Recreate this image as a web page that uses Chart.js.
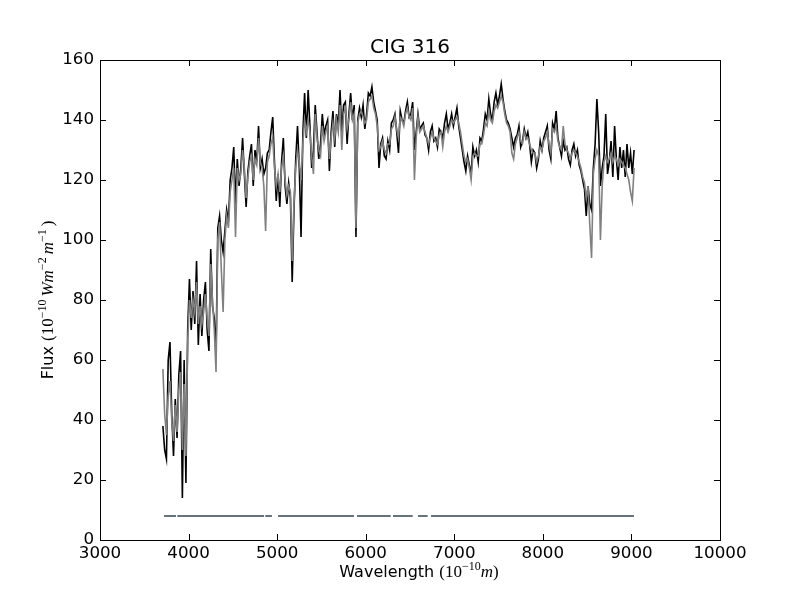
<!DOCTYPE html>
<html>
<head>
<meta charset="utf-8">
<script src="https://cdn.jsdelivr.net/npm/chart.js@4"></script>
<style>
  html, body { margin: 0; padding: 0; background: #fff; }
  #wrap { width: 800px; height: 600px; }
</style>
</head>
<body>
<div id="wrap"><canvas id="spectrum"></canvas></div>
<script>
// wavelength grid (Angstrom) shared by both spectra
const wavelength = [
  3710, 3730, 3750, 3770, 3790, 3810, 3830, 3850, 3870, 3890,
  3910, 3930, 3950, 3970, 3990, 4010, 4030, 4050, 4070, 4090,
  4110, 4130, 4150, 4170, 4190, 4210, 4230, 4250, 4270, 4290,
  4310, 4330, 4350, 4370, 4390, 4410, 4430, 4450, 4470, 4490,
  4510, 4530, 4550, 4570, 4590, 4610, 4630, 4650, 4670, 4690,
  4710, 4730, 4750, 4770, 4790, 4810, 4830, 4850, 4870, 4890,
  4910, 4930, 4950, 4970, 4990, 5010, 5030, 5050, 5070, 5090,
  5110, 5130, 5150, 5170, 5190, 5210, 5230, 5250, 5270, 5290,
  5310, 5330, 5350, 5370, 5390, 5410, 5430, 5450, 5470, 5490,
  5510, 5530, 5550, 5570, 5590, 5610, 5630, 5650, 5670, 5690,
  5710, 5730, 5750, 5770, 5790, 5810, 5830, 5850, 5870, 5890,
  5910, 5930, 5950, 5970, 5990, 6010, 6030, 6050, 6070, 6090,
  6110, 6130, 6150, 6170, 6190, 6210, 6230, 6250, 6270, 6290,
  6310, 6330, 6350, 6370, 6390, 6410, 6430, 6450, 6470, 6490,
  6510, 6530, 6550, 6570, 6590, 6610, 6630, 6650, 6670, 6690,
  6710, 6730, 6750, 6770, 6790, 6810, 6830, 6850, 6870, 6890,
  6910, 6930, 6950, 6970, 6990, 7010, 7030, 7050, 7070, 7090,
  7110, 7130, 7150, 7170, 7190, 7210, 7230, 7250, 7270, 7290,
  7310, 7330, 7350, 7370, 7390, 7410, 7430, 7450, 7470, 7490,
  7510, 7530, 7550, 7570, 7590, 7610, 7630, 7650, 7670, 7690,
  7710, 7730, 7750, 7770, 7790, 7810, 7830, 7850, 7870, 7890,
  7910, 7930, 7950, 7970, 7990, 8010, 8030, 8050, 8070, 8090,
  8110, 8130, 8150, 8170, 8190, 8210, 8230, 8250, 8270, 8290,
  8310, 8330, 8350, 8370, 8390, 8410, 8430, 8450, 8470, 8490,
  8510, 8530, 8550, 8570, 8590, 8610, 8630, 8650, 8670, 8690,
  8710, 8730, 8750, 8770, 8790, 8810, 8830, 8850, 8870, 8890,
  8910, 8930, 8950, 8970, 8990, 9010, 9030
];

// observed spectrum (black)
const fluxBlack = [
  38, 30, 27, 60, 66, 42, 28, 47, 34, 55,
  63, 14, 60, 19, 70, 87, 70, 83, 72, 93,
  65, 82, 68, 80, 86, 70, 63, 97, 78, 74,
  62, 104, 108, 100, 96, 103, 110, 106, 120, 124,
  131, 112, 127, 118, 124, 134, 122, 111, 123, 128,
  132, 118, 130, 126, 138, 124, 127, 122, 124, 129,
  130, 136, 141, 126, 113, 122, 111, 126, 134, 118,
  112, 119, 114, 86, 110, 127, 138, 124, 101, 135,
  149, 134, 150, 138, 124, 130, 145, 136, 127, 132,
  142, 135, 138, 140, 123, 136, 143, 131, 142, 138,
  150, 136, 145, 146, 132, 142, 149, 140, 145, 101,
  140, 144, 141, 145, 137, 142, 149, 148, 151, 146,
  143, 140, 124, 132, 134, 128, 127, 133, 130, 139,
  140, 142, 136, 129, 143, 140, 139, 143, 146, 141,
  142, 146, 130, 136, 142, 137, 138, 139, 135, 134,
  130, 136, 138, 133, 134, 131, 137, 136, 134, 139,
  142, 137, 139, 142, 138, 141, 144, 138, 134, 130,
  126, 123, 128, 125, 122, 131, 128, 130, 126, 134,
  133, 137, 142, 140, 147, 142, 140, 146, 149, 145,
  148, 152, 147, 143, 140, 139, 137, 134, 131, 134,
  135, 138, 131, 133, 137, 134, 136, 132, 126, 130,
  129, 124, 127, 133, 130, 134, 136, 138, 130, 127,
  139, 137, 143, 134, 131, 128, 133, 130, 131, 127,
  125, 130, 132, 128, 130, 125, 123, 120, 117, 108,
  118, 112, 110, 124, 132, 147, 136, 118, 124, 128,
  142, 122, 126, 133, 121, 138, 127, 120, 131, 124,
  130, 121, 132, 124, 129, 122, 130
];

// fitted spectrum (grey)
const fluxGray = [
  57, 42, 35, 48, 53, 40, 33, 45, 36, 50,
  56, 30, 52, 28, 66, 80, 74, 80, 76, 86,
  72, 78, 72, 76, 82, 74, 68, 92, 80, 70,
  56, 100, 106, 90, 76, 100, 108, 104, 116, 120,
  124, 101, 124, 120, 122, 130, 124, 114, 121, 126,
  128, 120, 127, 125, 134, 126, 124, 118, 103, 126,
  128, 132, 134, 124, 118, 122, 116, 124, 128, 120,
  115, 118, 116, 93, 112, 124, 130, 126, 120, 132,
  140, 136, 140, 136, 128, 122, 142, 134, 130, 128,
  138, 133, 136, 138, 127, 134, 139, 134, 140, 136,
  145, 130, 142, 144, 137, 140, 146, 140, 142, 104,
  139, 142, 143, 141, 139, 140, 146, 147, 148, 144,
  142, 138, 130, 131, 133, 130, 129, 132, 132, 137,
  138, 141, 137, 134, 141, 140, 138, 142, 144, 141,
  140, 144, 120, 134, 141, 136, 137, 138, 136, 134,
  132, 134, 136, 134, 133, 132, 135, 136, 131, 136,
  138, 136, 138, 140, 139, 140, 141, 139, 136, 132,
  128, 126, 127, 124, 120, 128, 129, 128, 128, 132,
  132, 135, 139, 138, 143, 140, 139, 143, 145, 144,
  146, 148, 146, 142, 139, 138, 136, 129, 127, 132,
  134, 136, 133, 132, 136, 134, 134, 132, 130, 129,
  129, 126, 128, 131, 130, 133, 134, 136, 132, 129,
  137, 136, 138, 133, 131, 130, 138, 132, 130, 129,
  127, 129, 130, 129, 128, 126, 124, 121, 119, 114,
  118, 105, 94, 122, 127, 130, 128, 100, 118, 126,
  128, 126, 127, 129, 126, 128, 127, 125, 127, 126,
  125, 124, 122, 120, 116, 113, 124
];

// masked-region bar at the bottom: segment starts / ends
const maskStart = [3723, 3873, 4866, 5010, 5902, 6308, 6590, 6737];
const maskEnd = [3858, 4852, 4941, 5868, 6282, 6530, 6699, 9029];
const maskLevel = 8;

const xMin = 3000, xMax = 10000, xStep = 1000;
const yMin = 0, yMax = 160, yStep = 20;

const toPoints = (ys) => wavelength.map((w, i) => ({x: w, y: ys[i]}));

const maskPoints = [];
maskStart.forEach((s, i) => {
  maskPoints.push({x: s, y: maskLevel});
  maskPoints.push({x: maskEnd[i], y: maskLevel});
  maskPoints.push({x: maskEnd[i], y: null});
});

const FONT = 'DejaVu Sans';
const SANS = '16px "DejaVu Sans"';
const SERIF = '17px "Liberation Serif"';
const SERIF_IT = 'italic 17px "Liberation Serif"';
const SUP = '12px "Liberation Serif"';

// axis labels with math-style parts, like matplotlib mathtext
const xLabelRuns = [
  {t: 'Wavelength ', f: SANS}, {t: '(10', f: SERIF}, {t: '\u221210', f: SUP, up: 7},
  {t: 'm', f: SERIF_IT}, {t: ')', f: SERIF}
];
const yLabelRuns = [
  {t: 'Flux ', f: SANS}, {t: '(10', f: SERIF}, {t: '\u221210', f: SUP, up: 7, gap: 3},
  {t: 'Wm', f: SERIF_IT}, {t: '\u22122', f: SUP, up: 7, gap: 3},
  {t: 'm', f: SERIF_IT}, {t: '\u22121', f: SUP, up: 7, gap: 3}, {t: ')', f: SERIF}
];

function drawRuns(ctx, runs, cx, baseline) {
  let total = 0;
  runs.forEach(r => { ctx.font = r.f; total += ctx.measureText(r.t).width + (r.gap || 0); });
  let x = cx - total / 2;
  ctx.textAlign = 'left';
  ctx.textBaseline = 'alphabetic';
  runs.forEach(r => {
    ctx.font = r.f;
    ctx.fillText(r.t, x, baseline - (r.up || 0));
    x += ctx.measureText(r.t).width + (r.gap || 0);
  });
}

// matplotlib-like frame with inward ticks on all four sides, title and axis labels
const frameTicks = {
  id: 'frameTicks',
  afterDatasetsDraw(chart) {
    const {ctx, chartArea: a, scales: {x, y}} = chart;
    const len = 6;
    ctx.save();
    ctx.strokeStyle = '#000';
    ctx.lineWidth = 1;
    ctx.beginPath();
    x.ticks.forEach(t => {
      const px = Math.round(x.getPixelForValue(t.value)) + 0.5;
      ctx.moveTo(px, a.bottom); ctx.lineTo(px, a.bottom - len);
      ctx.moveTo(px, a.top); ctx.lineTo(px, a.top + len);
    });
    y.ticks.forEach(t => {
      const py = Math.round(y.getPixelForValue(t.value)) + 0.5;
      ctx.moveTo(a.left, py); ctx.lineTo(a.left + len, py);
      ctx.moveTo(a.right, py); ctx.lineTo(a.right - len, py);
    });
    ctx.stroke();
    ctx.strokeRect(Math.round(a.left) + 0.5, Math.round(a.top) + 0.5,
                   Math.round(a.right - a.left), Math.round(a.bottom - a.top));

    ctx.fillStyle = '#000';
    ctx.font = '20px "' + FONT + '"';
    ctx.textAlign = 'center';
    ctx.textBaseline = 'alphabetic';
    ctx.fillText('CIG 316', (a.left + a.right) / 2, a.top - 7);

    drawRuns(ctx, xLabelRuns, (a.left + a.right) / 2 + 9, 577);

    ctx.translate(53, (a.top + a.bottom) / 2);
    ctx.rotate(-Math.PI / 2);
    drawRuns(ctx, yLabelRuns, 0, 0);
    ctx.restore();
  }
};

new Chart(document.getElementById('spectrum'), {
  type: 'line',
  data: {
    datasets: [
      {
        label: 'mask',
        data: maskPoints,
        borderColor: '#65737a',
        borderWidth: 2,
        pointRadius: 0,
        spanGaps: false
      },
      {
        label: 'fit',
        data: toPoints(fluxGray),
        borderColor: '#808080',
        borderWidth: 1.6,
        pointRadius: 0
      },
      {
        label: 'observed',
        data: toPoints(fluxBlack),
        borderColor: '#000000',
        borderWidth: 1.6,
        pointRadius: 0
      }
    ]
  },
  options: {
    responsive: true,
    maintainAspectRatio: false,
    animation: false,
    devicePixelRatio: 1,
    layout: { padding: { left: 0, right: 80, top: 60, bottom: 0 } },
    elements: { line: { tension: 0 } },
    scales: {
      x: {
        type: 'linear',
        min: xMin,
        max: xMax,
        afterFit: s => { s.height = 60; },
        grid: { display: false, drawTicks: false },
        border: { display: false },
        ticks: {
          stepSize: xStep,
          color: '#000',
          padding: 4,
          maxRotation: 0,
          font: { family: FONT, size: 16.7 },
          callback: v => String(v)
        }
      },
      y: {
        min: yMin,
        max: yMax,
        afterFit: s => { s.width = 100; },
        grid: { display: false, drawTicks: false },
        border: { display: false },
        ticks: {
          stepSize: yStep,
          color: '#000',
          padding: 6,
          font: { family: FONT, size: 16.7 },
          callback: v => String(v)
        }
      }
    },
    plugins: {
      legend: { display: false },
      tooltip: { enabled: false },
      title: { display: false }
    }
  },
  plugins: [frameTicks]
});
</script>
</body>
</html>
